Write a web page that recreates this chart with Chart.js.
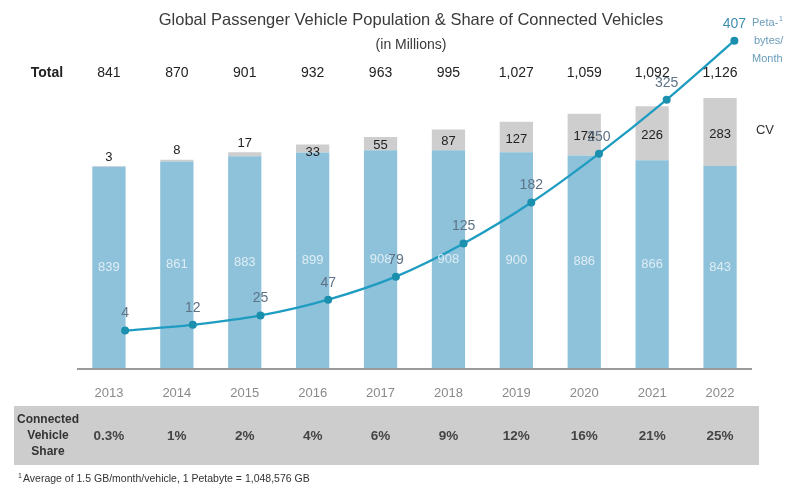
<!DOCTYPE html>
<html>
<head>
<meta charset="utf-8">
<script src="https://cdn.jsdelivr.net/npm/chart.js@4/dist/chart.umd.min.js"></script>
<style>
  html, body { margin: 0; padding: 0; background: #fff; }
  #wrap { width: 790px; height: 489px; position: relative; }
</style>
</head>
<body>
<div id="wrap"><canvas id="myChart" width="790" height="489"></canvas></div>
<script>
// years on the x axis
var years = ['2013', '2014', '2015', '2016', '2017', '2018', '2019', '2020', '2021', '2022'];
// total vehicles (millions), printed on the "Total" row
var totals = ['841', '870', '901', '932', '963', '995', '1,027', '1,059', '1,092', '1,126'];
// non connected vehicles (blue part of the bar)
var nonConnected = [839, 861, 883, 899, 908, 908, 900, 886, 866, 843];
// connected vehicles (grey part of the bar)
var connected = [3, 8, 17, 33, 55, 87, 127, 174, 226, 283];
// data traffic in petabytes/month (line)
var petabytes = [4, 12, 25, 47, 79, 125, 182, 250, 325, 407];
// connected vehicle share row
var cvShare = ['0.3%', '1%', '2%', '4%', '6%', '9%', '12%', '16%', '21%', '25%'];

var FONT = '"Liberation Sans", Arial, sans-serif';

// line points on a linear x scale (the line sits a bit right of the bar centres)
var linePoints = [];
for (var i = 0; i < petabytes.length; i++) {
    linePoints.push({ x: i, y: petabytes[i] });
}

function txt(ctx, s, x, y, size, color, weight, align) {
    ctx.font = (weight || 'normal') + ' ' + size + 'px ' + FONT;
    ctx.fillStyle = color;
    ctx.textAlign = align || 'center';
    ctx.textBaseline = 'middle';
    ctx.fillText(s, x, y);
}

// background band for the share table, baseline and all the text
var textPlugin = {
    id: 'textPlugin',
    beforeDatasetsDraw: function (chart) {
        var ctx = chart.ctx;
        ctx.save();
        ctx.fillStyle = '#cdcdcd';
        ctx.fillRect(14, 406, 745, 59);
        ctx.restore();
    },
    afterDatasetsDraw: function (chart) {
        var ctx = chart.ctx;
        var area = chart.chartArea;
        var xs = chart.scales.x;
        ctx.save();

        // baseline
        ctx.strokeStyle = '#9a9a9a';
        ctx.lineWidth = 2;
        ctx.beginPath();
        ctx.moveTo(area.left + 2, area.bottom + 1);
        ctx.lineTo(area.right - 2, area.bottom + 1);
        ctx.stroke();

        // title
        txt(ctx, 'Global Passenger Vehicle Population & Share of Connected Vehicles', 411, 20, 16.5, '#3a3a3a', 'normal');
        txt(ctx, '(in Millions)', 411, 45, 14, '#3a3a3a', 'normal');

        // totals row, years, share row
        txt(ctx, 'Total', 47, 73, 14, '#222', 'bold');
        for (var i = 0; i < years.length; i++) {
            var x = xs.getPixelForValue(i);
            txt(ctx, totals[i], x, 73, 14, '#222', 'normal');
            txt(ctx, years[i], x, 393, 13, '#8a8a8a', 'normal');
            txt(ctx, cvShare[i], x, 436, 13.5, '#444', 'bold');
        }

        // table row header
        txt(ctx, 'Connected', 48, 420, 12, '#333', 'bold');
        txt(ctx, 'Vehicle', 48, 436, 12, '#333', 'bold');
        txt(ctx, 'Share', 48, 452, 12, '#333', 'bold');

        // footnote
        ctx.font = '7px ' + FONT;
        ctx.fillStyle = '#333';
        ctx.textAlign = 'left';
        ctx.textBaseline = 'middle';
        ctx.fillText('1', 18, 476);
        txt(ctx, 'Average of 1.5 GB/month/vehicle, 1 Petabyte = 1,048,576 GB', 23, 479, 10.5, '#333', 'normal', 'left');

        // bar labels
        var blueMeta = chart.getDatasetMeta(0);
        var greyMeta = chart.getDatasetMeta(1);
        for (var j = 0; j < blueMeta.data.length; j++) {
            var b = blueMeta.data[j];
            txt(ctx, String(nonConnected[j]), b.x, (b.y + b.base) / 2, 13, 'rgba(235,244,249,0.85)', 'normal');
            var g = greyMeta.data[j];
            if (connected[j] < 20) {
                txt(ctx, String(connected[j]), g.x, g.y - 9, 13, '#222', 'normal');
            } else {
                txt(ctx, String(connected[j]), g.x, Math.max((g.y + g.base) / 2 + 2, g.y + 8), 13, '#222', 'normal');
            }
        }
        txt(ctx, 'CV', 765, 130, 13, '#333', 'normal');

        // line labels
        var lineMeta = chart.getDatasetMeta(2);
        for (var k = 0; k < lineMeta.data.length; k++) {
            var p = lineMeta.data[k];
            var col = k === lineMeta.data.length - 1 ? '#3d8fb3' : '#5d7286';
            txt(ctx, String(petabytes[k]), p.x, p.y - 17, 14, col, 'normal');
        }
        // unit note next to last point
        txt(ctx, 'Peta-', 752, 23, 11, '#6a9cbb', 'normal', 'left');
        ctx.font = '7px ' + FONT;
        ctx.fillText('1', 779, 19);
        txt(ctx, 'bytes/', 754, 41, 11, '#6a9cbb', 'normal', 'left');
        txt(ctx, 'Month', 752, 59, 11, '#6a9cbb', 'normal', 'left');

        ctx.restore();
    }
};

var ctx = document.getElementById('myChart').getContext('2d');
var myChart = new Chart(ctx, {
    type: 'bar',
    data: {
        labels: years,
        datasets: [{
            label: 'Non connected',
            data: nonConnected,
            backgroundColor: '#8ec2da',
            stack: 'cars',
            grouped: false,
            barPercentage: 0.49,
            categoryPercentage: 1,
            order: 2
        }, {
            label: 'CV',
            data: connected,
            backgroundColor: '#cecece',
            stack: 'cars',
            grouped: false,
            barPercentage: 0.49,
            categoryPercentage: 1,
            order: 2
        }, {
            type: 'line',
            label: 'Petabytes/Month',
            data: linePoints,
            xAxisID: 'x2',
            yAxisID: 'y2',
            borderColor: '#1f9cc1',
            backgroundColor: '#1f9cc1',
            borderWidth: 2.3,
            pointRadius: 4,
            pointBackgroundColor: '#1a8fae',
            pointBorderWidth: 0,
            tension: 0.25,
            clip: false,
            order: 1
        }]
    },
    options: {
        responsive: false,
        animation: false,
        layout: { padding: { left: 75, right: 36, top: 40, bottom: 121 } },
        plugins: {
            legend: { display: false },
            tooltip: { enabled: false }
        },
        scales: {
            x: { display: false, stacked: true, offset: true },
            y: { display: false, stacked: true, min: 0, max: 1368 },
            x2: { type: 'linear', display: false, offset: false, min: -0.74, max: 9.29 },
            y2: { type: 'linear', display: false, min: -48, max: 408 }
        }
    },
    plugins: [textPlugin]
});
</script>
</body>
</html>
